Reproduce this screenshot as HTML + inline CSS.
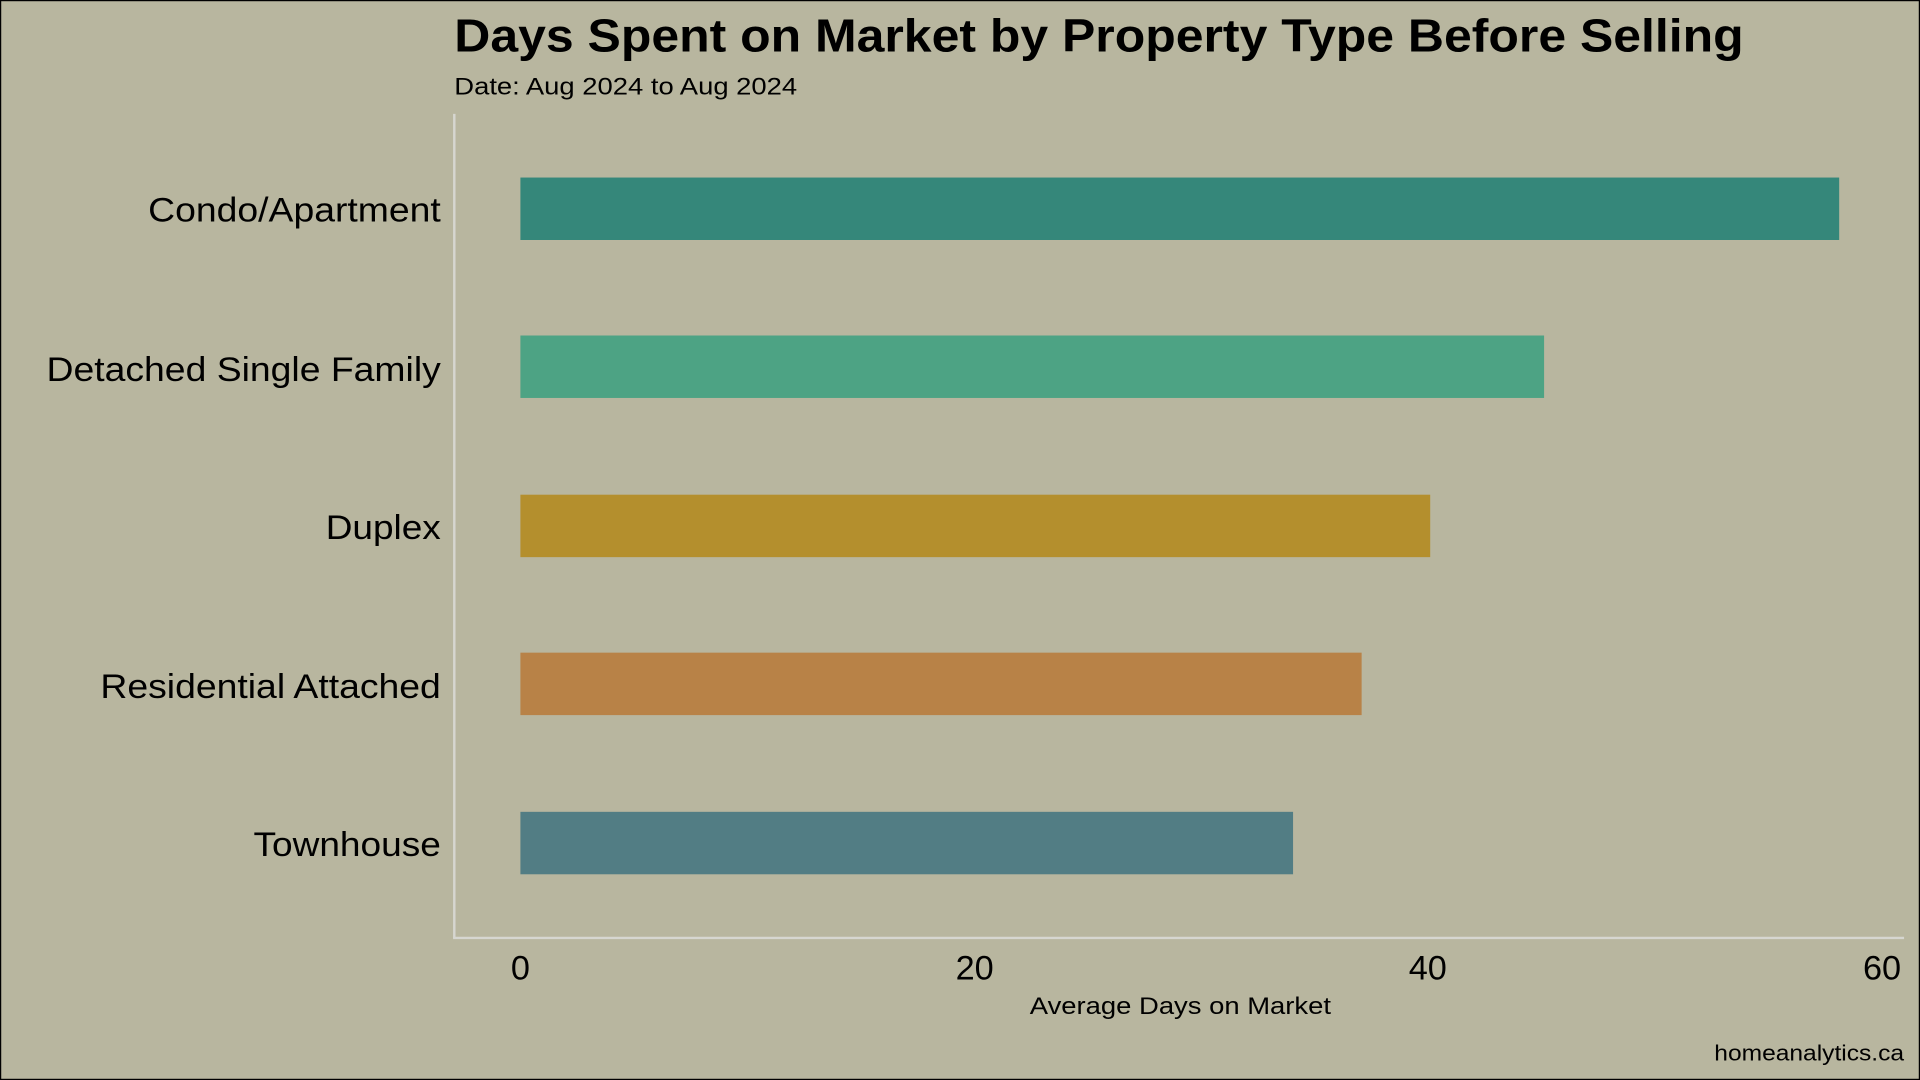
<!DOCTYPE html>
<html><head><meta charset="utf-8"><style>
html,body{margin:0;padding:0;background:#b8b69f;}
svg{display:block;}
text{font-family:"Liberation Sans",sans-serif;fill:#000;}
</style></head><body>
<svg width="1920" height="1080" viewBox="0 0 1568 882" xmlns="http://www.w3.org/2000/svg">
<rect x="0.5" y="0.5" width="1567" height="881" fill="#b8b69f" stroke="#000" stroke-width="1"/>
<text x="371" y="42" font-size="38" font-weight="bold" textLength="1053" lengthAdjust="spacingAndGlyphs">Days Spent on Market by Property Type Before Selling</text>
<text x="371" y="77" font-size="20" textLength="280" lengthAdjust="spacingAndGlyphs">Date: Aug 2024 to Aug 2024</text>
<line x1="371" y1="93" x2="371" y2="766" stroke="#d6d6d0" stroke-width="2"/>
<line x1="370" y1="766" x2="1555" y2="766" stroke="#d6d6d0" stroke-width="2"/>
<rect x="425" y="145" width="1077" height="51" fill="#35877a"/>
<rect x="425" y="274" width="836" height="51" fill="#4da384"/>
<rect x="425" y="404" width="743" height="51" fill="#b48f2d"/>
<rect x="425" y="533" width="687" height="51" fill="#b88247"/>
<rect x="425" y="663" width="631" height="51" fill="#527d84"/>
<g font-size="28">
<text x="121" y="181" textLength="239" lengthAdjust="spacingAndGlyphs">Condo/Apartment</text>
<text x="38" y="311" textLength="322" lengthAdjust="spacingAndGlyphs">Detached Single Family</text>
<text x="266" y="440" textLength="94" lengthAdjust="spacingAndGlyphs">Duplex</text>
<text x="82" y="570" textLength="278" lengthAdjust="spacingAndGlyphs">Residential Attached</text>
<text x="207" y="699" textLength="153" lengthAdjust="spacingAndGlyphs">Townhouse</text>
</g>
<g font-size="28" text-anchor="middle">
<text x="425" y="800">0</text>
<text x="796" y="800">20</text>
<text x="1166" y="800">40</text>
<text x="1537" y="800">60</text>
</g>
<text x="841" y="828" font-size="20" textLength="246" lengthAdjust="spacingAndGlyphs">Average Days on Market</text>
<text x="1400" y="866" font-size="18" textLength="155" lengthAdjust="spacingAndGlyphs">homeanalytics.ca</text>
</svg>
</body></html>
